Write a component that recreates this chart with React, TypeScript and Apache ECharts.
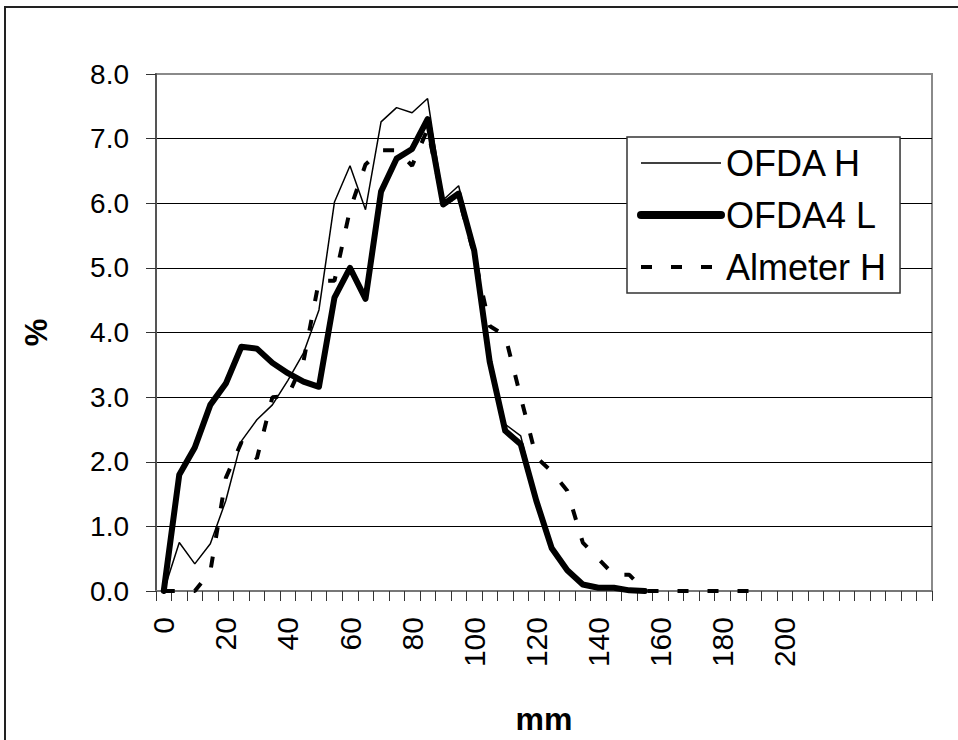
import React, { useEffect, useRef } from 'react';
import * as echarts from 'echarts';

const categories = [
  '0', '5', '10', '15', '20', '25', '30', '35', '40', '45',
  '50', '55', '60', '65', '70', '75', '80', '85', '90', '95',
  '100', '105', '110', '115', '120', '125', '130', '135', '140', '145',
  '150', '155', '160', '165', '170', '175', '180', '185', '190', '195',
  '200', '205', '210', '215', '220', '225', '230', '235', '240', '245',
];

const tickLabels = ['0', '20', '40', '60', '80', '100', '120', '140', '160', '180', '200'];

const yTicks = [0, 1, 2, 3, 4, 5, 6, 7, 8];

const seriesNames = ['OFDA H', 'OFDA4 L', 'Almeter H'];

// values per category, 0..155 mm
const ofdaH = [
  0.0, 0.75, 0.42, 0.73, 1.4, 2.32, 2.65, 2.88, 3.26, 3.68,
  4.35, 6.02, 6.58, 5.9, 7.26, 7.48, 7.4, 7.62, 6.05, 6.27,
  5.3, 3.62, 2.58, 2.4, 1.42, 0.68, 0.33, 0.11, 0.05, 0.05,
  0.01, 0.0,
];

const ofda4L = [
  0.0, 1.8, 2.22, 2.88, 3.21, 3.78, 3.75, 3.53, 3.37, 3.24,
  3.16, 4.54, 5.0, 4.52, 6.18, 6.69, 6.84, 7.3, 5.98, 6.15,
  5.27, 3.55, 2.48, 2.27, 1.4, 0.66, 0.32, 0.1, 0.05, 0.05,
  0.01, 0.0,
];

// values per category, 0..190 mm
const almeterH = [
  0.0, 0.0, 0.0, 0.3, 1.75, 2.3, 2.05, 3.0, 3.02, 3.55,
  4.8, 4.8, 5.9, 6.6, 6.82, 6.82, 6.58, 7.15, 6.0, 6.1,
  5.2, 4.1, 3.95, 3.0, 2.07, 1.85, 1.55, 0.75, 0.5, 0.25,
  0.25, 0.0, 0.0, 0.0, 0.0, 0.0, 0.0, 0.0, 0.0,
];

const FONT = "'Liberation Sans', Arial, sans-serif";

const DASH = [11, 19];

export default function App() {
  const ref = useRef<HTMLDivElement>(null);

  useEffect(() => {
    document.body.style.margin = '0';
    const chart = echarts.init(ref.current!, null, { renderer: 'svg' });
    chart.setOption({
      animation: false,
      backgroundColor: '#fff',
      textStyle: { fontFamily: FONT, color: '#000' },
      grid: {
        left: 156,
        right: 26,
        top: 74,
        bottom: 141,
        show: true,
        borderColor: '#8a8a8a',
        borderWidth: 2,
        backgroundColor: 'transparent',
      },
      graphic: [
        {
          type: 'rect',
          shape: { x: 5, y: 7, width: 1000, height: 1000 },
          style: { fill: 'none', stroke: '#222', lineWidth: 2 },
          silent: true,
        },
      ],
      legend: {
        data: [
          { name: seriesNames[0], lineStyle: { width: 1.5, color: '#000' } },
          { name: seriesNames[1], lineStyle: { width: 8, color: '#000', cap: 'round' } },
          { name: seriesNames[2], lineStyle: { width: 4, color: '#000', type: DASH, cap: 'butt' } },
        ],
        orient: 'vertical',
        left: 627,
        top: 137,
        padding: [6, 14, 6, 10],
        itemWidth: 80,
        itemHeight: 14,
        itemGap: 12,
        itemStyle: { opacity: 0 },
        backgroundColor: '#fff',
        borderColor: '#333',
        borderWidth: 1.5,
        borderRadius: 0,
        textStyle: { fontSize: 36, lineHeight: 40, color: '#000', fontFamily: FONT },
      },
      xAxis: {
        type: 'category',
        data: categories,
        boundaryGap: true,
        name: 'mm',
        nameLocation: 'middle',
        nameGap: 112,
        nameTextStyle: { fontSize: 32, fontWeight: 'bold', color: '#000', fontFamily: FONT },
        axisLine: { show: true, lineStyle: { color: '#777', width: 2 } },
        axisTick: { show: true, interval: 0, length: 10, lineStyle: { color: '#333', width: 1 } },
        axisLabel: {
          interval: 0,
          rotate: 90,
          margin: 26,
          fontSize: 30,
          color: '#000',
          fontFamily: FONT,
          formatter: (v: string) => (tickLabels.includes(v) ? v : ''),
        },
        splitLine: { show: false },
      },
      yAxis: {
        type: 'value',
        min: yTicks[0],
        max: yTicks[yTicks.length - 1],
        interval: 1,
        name: '%',
        nameLocation: 'middle',
        nameRotate: 90,
        nameGap: 104,
        nameTextStyle: { fontSize: 31, fontWeight: 'bold', color: '#000', fontFamily: FONT },
        axisLine: { show: true, lineStyle: { color: '#555', width: 2 } },
        axisTick: { show: true, length: 10, lineStyle: { color: '#333', width: 1 } },
        axisLabel: {
          margin: 27,
          fontSize: 28,
          color: '#000',
          fontFamily: FONT,
          formatter: (v: number) => v.toFixed(1),
        },
        splitLine: { show: true, showMaxLine: false, lineStyle: { color: '#000', width: 1 } },
      },
      series: [
        {
          name: seriesNames[0],
          type: 'line',
          data: ofdaH,
          symbol: 'none',
          lineStyle: { color: '#000', width: 1.5 },
          itemStyle: { color: '#000' },
          z: 3,
        },
        {
          name: seriesNames[1],
          type: 'line',
          data: ofda4L,
          symbol: 'none',
          lineStyle: { color: '#000', width: 6, join: 'round', cap: 'round' },
          itemStyle: { color: '#000' },
          z: 2,
        },
        {
          name: seriesNames[2],
          type: 'line',
          data: almeterH,
          symbol: 'none',
          lineStyle: { color: '#000', width: 4, type: DASH, cap: 'butt' },
          itemStyle: { color: '#000' },
          z: 4,
        },
      ],
    });
    return () => chart.dispose();
  }, []);

  return <div ref={ref} style={{ width: 958, height: 740 }} />;
}
